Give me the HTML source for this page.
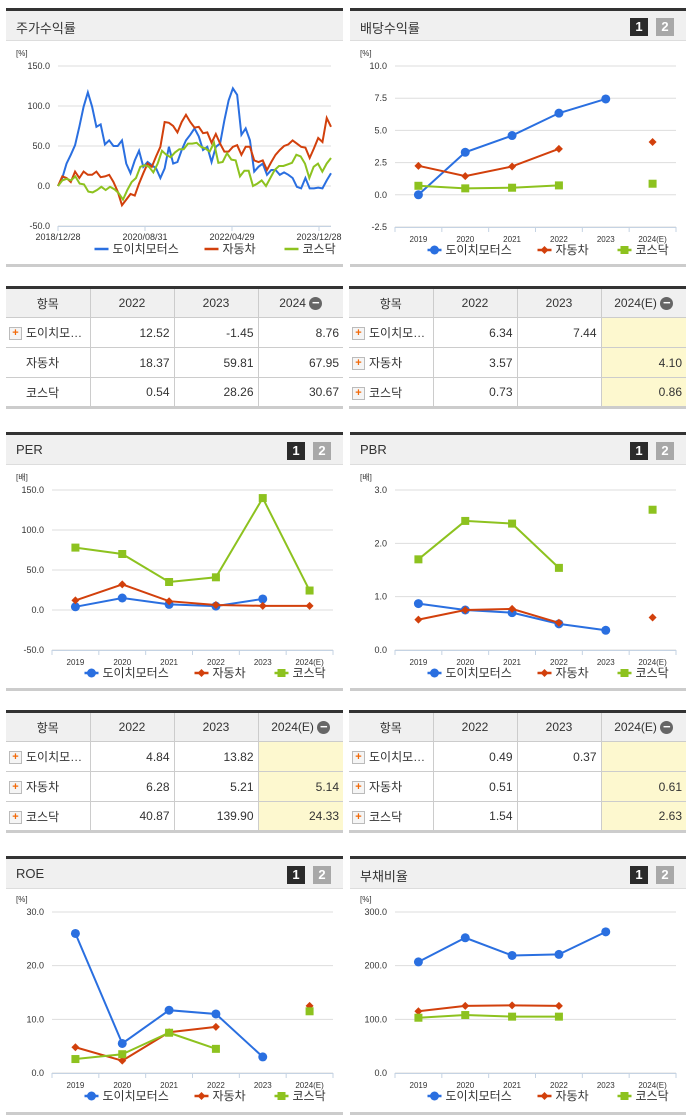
<!DOCTYPE html>
<html><head><meta charset="utf-8">
<style>
body{margin:0;width:691px;height:1115px;background:#fff;position:relative;overflow:hidden;font-family:"Liberation Sans","Noto Sans CJK KR",sans-serif;}
.abs{position:absolute;}
.hdr{position:absolute;background:#f0f0f0;border-top:3px solid #333;border-bottom:1px solid #ddd;box-sizing:border-box;height:33px;}
.hdr span{position:absolute;left:10px;top:7px;font-size:13px;color:#333;}
.btn1,.btn2{position:absolute;top:7px;width:18px;height:18px;color:#fff;font-weight:bold;font-size:13px;text-align:center;line-height:18px;}
.btn1{background:#2b2b2b}.btn2{background:#a8a8a8}
.bot{position:absolute;height:3px;background:#ccc;}
table{position:absolute;border-collapse:collapse;border-top:3px solid #333;border-bottom:3px solid #ccc;font-size:12px;color:#333;table-layout:fixed;}
td,th{border:1px solid #ccc;height:30px;padding:0 4px;box-sizing:border-box;}
table tr>*:first-child{border-left:none}
table tr>*:last-child{border-right:none}
th{background:#f0f0f0;font-weight:normal;text-align:center;}
td{text-align:right;}
td.n{text-align:left;white-space:nowrap;overflow:hidden;padding-left:3px;}
td.y{background:#fdf8cf;}
.plus{display:inline-block;width:11px;height:11px;border:1px solid #bbb;background:#f5f5f5;color:#f26a0a;font-size:11px;line-height:10px;text-align:center;font-weight:bold;vertical-align:middle;margin-right:4px;}
.minus{display:inline-block;width:13px;height:13px;border-radius:50%;background:#666;color:#fff;line-height:12px;font-size:13px;font-weight:bold;vertical-align:middle;}
svg{position:absolute;left:0;top:0;}
</style></head><body>
<svg id="svg" width="691" height="1115"></svg>

<div class="hdr" style="left:6px;top:8px;width:337px"><span>주가수익률</span></div>
<div class="bot" style="left:6px;top:264px;width:337px"></div>
<div class="hdr" style="left:350px;top:8px;width:336px"><span>배당수익률</span><div class="btn1" style="right:38px">1</div><div class="btn2" style="right:12px">2</div></div>
<div class="bot" style="left:350px;top:264px;width:336px"></div>

<div class="hdr" style="left:6px;top:432px;width:337px"><span>PER</span><div class="btn1" style="right:38px">1</div><div class="btn2" style="right:12px">2</div></div>
<div class="bot" style="left:6px;top:688px;width:337px"></div>
<div class="hdr" style="left:350px;top:432px;width:336px"><span>PBR</span><div class="btn1" style="right:38px">1</div><div class="btn2" style="right:12px">2</div></div>
<div class="bot" style="left:350px;top:688px;width:336px"></div>

<div class="hdr" style="left:6px;top:856px;width:337px"><span>ROE</span><div class="btn1" style="right:38px">1</div><div class="btn2" style="right:12px">2</div></div>
<div class="bot" style="left:6px;top:1112px;width:337px"></div>
<div class="hdr" style="left:350px;top:856px;width:336px"><span>부채비율</span><div class="btn1" style="right:38px">1</div><div class="btn2" style="right:12px">2</div></div>
<div class="bot" style="left:350px;top:1112px;width:336px"></div>

<table style="left:6px;top:286px;width:337px">
<colgroup><col style="width:84px"><col style="width:84px"><col style="width:84px"><col></colgroup>
<tr><th>항목</th><th>2022</th><th>2023</th><th>2024 <span class="minus">−</span></th></tr>
<tr><td class="n"><span class="plus">+</span>도이치모…</td><td>12.52</td><td>-1.45</td><td>8.76</td></tr>
<tr><td class="n" style="padding-left:20px">자동차</td><td>18.37</td><td>59.81</td><td>67.95</td></tr>
<tr><td class="n" style="padding-left:20px">코스닥</td><td>0.54</td><td>28.26</td><td>30.67</td></tr>
</table>
<table style="left:349px;top:286px;width:337px">
<colgroup><col style="width:84px"><col style="width:84px"><col style="width:84px"><col></colgroup>
<tr><th>항목</th><th>2022</th><th>2023</th><th>2024(E) <span class="minus">−</span></th></tr>
<tr><td class="n"><span class="plus">+</span>도이치모…</td><td>6.34</td><td>7.44</td><td class="y"></td></tr>
<tr><td class="n"><span class="plus">+</span>자동차</td><td>3.57</td><td></td><td class="y">4.10</td></tr>
<tr><td class="n"><span class="plus">+</span>코스닥</td><td>0.73</td><td></td><td class="y">0.86</td></tr>
</table>
<table style="left:6px;top:710px;width:337px">
<colgroup><col style="width:84px"><col style="width:84px"><col style="width:84px"><col></colgroup>
<tr><th>항목</th><th>2022</th><th>2023</th><th>2024(E) <span class="minus">−</span></th></tr>
<tr><td class="n"><span class="plus">+</span>도이치모…</td><td>4.84</td><td>13.82</td><td class="y"></td></tr>
<tr><td class="n"><span class="plus">+</span>자동차</td><td>6.28</td><td>5.21</td><td class="y">5.14</td></tr>
<tr><td class="n"><span class="plus">+</span>코스닥</td><td>40.87</td><td>139.90</td><td class="y">24.33</td></tr>
</table>
<table style="left:349px;top:710px;width:337px">
<colgroup><col style="width:84px"><col style="width:84px"><col style="width:84px"><col></colgroup>
<tr><th>항목</th><th>2022</th><th>2023</th><th>2024(E) <span class="minus">−</span></th></tr>
<tr><td class="n"><span class="plus">+</span>도이치모…</td><td>0.49</td><td>0.37</td><td class="y"></td></tr>
<tr><td class="n"><span class="plus">+</span>자동차</td><td>0.51</td><td></td><td class="y">0.61</td></tr>
<tr><td class="n"><span class="plus">+</span>코스닥</td><td>1.54</td><td></td><td class="y">2.63</td></tr>
</table>

<script>
// ---- data ----
const seriesNames = ["도이치모터스","자동차","코스닥"];
const years = ["2019","2020","2021","2022","2023","2024(E)"];
const stockDates = ["2018/12/28","2020/08/31","2022/04/29","2023/12/28"];
const stockBlue = [0,10,28,39,51,74,99,117,99,74,77,52,57,50,50,57,28,16,32,44,24,30,26,22,10,22,49,28,30,45,57,64,72,62,45,49,30,49,53,82,107,122,114,64,72,57,18,24,28,14,20,20,14,17,14,10,-1,-3,10,-3,-3,-2,-3,7,16];
const stockRed = [0,12,10,5,18,10,18,14,14,18,11,12,14,5,-7,-24,-17,-10,-12,3,16,28,24,37,49,80,79,75,67,80,89,80,73,74,66,67,54,65,53,43,43,49,51,39,49,49,32,30,32,20,30,39,45,50,52,57,53,49,48,35,47,60,55,85,74];
const stockGreen = [0,7,9,7,12,3,2,-7,-8,-5,-1,-5,-1,-4,-9,-17,-5,5,10,24,26,24,17,28,44,39,36,42,46,46,53,53,54,49,47,43,54,29,30,41,33,32,12,19,19,0,3,7,0,10,20,25,25,27,29,39,37,28,10,24,28,18,28,35];
const divBlue=[0.0,3.3,4.6,6.34,7.44,null], divRed=[2.25,1.45,2.2,3.57,null,4.10], divGreen=[0.7,0.5,0.55,0.73,null,0.86];
const perBlue=[4,15,7,4.84,13.82,null], perRed=[12,32,11,6.28,5.21,5.14], perGreen=[78,70,35,40.87,139.9,24.33];
const pbrBlue=[0.87,0.75,0.70,0.49,0.37,null], pbrRed=[0.57,0.75,0.77,0.51,null,0.61], pbrGreen=[1.70,2.42,2.37,1.54,null,2.63];
const roeBlue=[26,5.5,11.7,11,3,null], roeRed=[4.8,2.3,7.6,8.6,null,12.5], roeGreen=[2.6,3.5,7.5,4.5,null,11.5];
const debtBlue=[207,252,219,221,263,null], debtRed=[115,125,126,125,null,null], debtGreen=[103,108,105,105,null,null];
const divTicks=[10,7.5,5,2.5,0,-2.5], perTicks=[150,100,50,0,-50], pbrTicks=[3,2,1,0], roeTicks=[30,20,10,0], debtTicks=[300,200,100,0], stockTicks=[150,100,50,0,-50];

const C=["#2a6fe0","#d2400c","#8dc21f"];
const NS="http://www.w3.org/2000/svg";
const svg=document.getElementById('svg');
function el(tag,attrs,parent){const e=document.createElementNS(NS,tag);for(const k in attrs)e.setAttribute(k,attrs[k]);(parent||svg).appendChild(e);return e;}
function txt(x,y,s,size,anchor,fill){const t=el('text',{x:x,y:y,'font-size':size,'text-anchor':anchor||'start',fill:fill||'#333','font-family':'"Liberation Sans","Noto Sans CJK KR",sans-serif'});t.textContent=s;return t;}

function axes(g,o,ticks,fmt,unit){
  const lo=ticks[ticks.length-1],hi=ticks[0];
  const ys=v=>o.top+(hi-v)/(hi-lo)*(o.bottom-o.top);
  ticks.forEach(t=>{
    const l=el('line',{x1:o.x0,x2:o.x1,y1:ys(t),y2:ys(t),stroke:'#ddd','stroke-width':1},g);
    
    
    const tt=txt(o.x0-8,ys(t)+3,t.toFixed(1),9,'end');
    
    
  });
  const a=el('line',{x1:o.x0,x2:o.x1,y1:o.bottom+0.5,y2:o.bottom+0.5,stroke:'#c5d3e3','stroke-width':1},g);
  
  
  const u=txt(o.ux,o.top-10,unit,8);
  
  
  return ys;
}
function marker(g,i,x,y){
  let m;
  if(i===0)m=el('circle',{cx:x,cy:y,r:4.5,fill:C[0]},g);
  else if(i===1)m=el('polygon',{points:`${x},${y-4} ${x+4},${y} ${x},${y+4} ${x-4},${y}`,fill:C[1]},g);
  else m=el('rect',{x:x-4,y:y-4,width:8,height:8,fill:C[2]},g);
  
  
}
function legend(g,cx,y){
  const widths=[92,62,62];let x=cx-108;
  seriesNames.forEach((n,i)=>{
    const l=el('line',{x1:x,x2:x+14,y1:y,y2:y,stroke:C[i],'stroke-width':2.5},g);
    
    
    if(i>=0 && cx>0 && g.dataset.markers==='1')marker(g,i,x+7,y);
    const t=txt(x+18,y+4,n,12);
    
    
    x+=widths[i]+18;
  });
}
function catChart(name,o,ticks,data,unit){
  const g=el('g',{});
  
  
  g.dataset.markers='1';
  const ys=axes(g,o,ticks,null,unit);
  const step=(o.x1-o.x0)/years.length;
  const xs=i=>o.x0+step*(i+0.5);
  for(let i=0;i<=years.length;i++){el('line',{x1:o.x0+step*i,x2:o.x0+step*i,y1:o.bottom,y2:o.bottom+5,stroke:'#c5d3e3'},g);}
  years.forEach((y,i)=>{const t=txt(xs(i),o.bottom+15,y,8,'middle');});
  data.forEach((arr,si)=>{
    let pts=[];
    const flush=()=>{if(pts.length>1){const p=el('polyline',{points:pts.join(' '),fill:'none',stroke:C[si],'stroke-width':2},g);}pts=[];};
    arr.forEach((v,i)=>{if(v===null){flush();return;}pts.push(xs(i)+','+ys(v));});
    flush();
    arr.forEach((v,i)=>{if(v!==null)marker(g,si,xs(i),ys(v));});
  });
  legend(g,(o.x0+o.x1)/2,o.bottom+23);
}
// stock chart
(function(){
  const o={x0:58,x1:331,top:66,bottom:226,ux:16};
  const g=el('g',{});
  
  
  const ys=axes(g,o,stockTicks,null,'[%]');
  stockDates.forEach((d,i)=>{
    const x=o.x0+i*(o.x1-o.x0-12)/(stockDates.length-1);
    el('line',{x1:x,x2:x,y1:o.bottom,y2:o.bottom+5,stroke:'#c5d3e3'},g);
    const t=txt(x,o.bottom+14,d,9,'middle');
    
    
  });
  [stockBlue,stockRed,stockGreen].forEach((arr,si)=>{
    const pts=arr.map((v,i)=>(o.x0+i*(o.x1-o.x0)/(arr.length-1))+','+ys(v));
    const p=el('polyline',{points:pts.join(' '),fill:'none',stroke:C[si],'stroke-width':2},g);
    
    
  });
  legend(g,(o.x0+o.x1)/2+8,o.bottom+23);
})();
catChart('dividend-chart',{x0:395,x1:676,top:66,bottom:227,ux:360},divTicks,[divBlue,divRed,divGreen],'[%]');
catChart('per-chart',{x0:52,x1:333,top:490,bottom:650,ux:16},perTicks,[perBlue,perRed,perGreen],'[배]');
catChart('pbr-chart',{x0:395,x1:676,top:490,bottom:650,ux:360},pbrTicks,[pbrBlue,pbrRed,pbrGreen],'[배]');
catChart('roe-chart',{x0:52,x1:333,top:912,bottom:1073,ux:16},roeTicks,[roeBlue,roeRed,roeGreen],'[%]');
catChart('debt-ratio-chart',{x0:395,x1:676,top:912,bottom:1073,ux:360},debtTicks,[debtBlue,debtRed,debtGreen],'[%]');
</script>
</body></html>
